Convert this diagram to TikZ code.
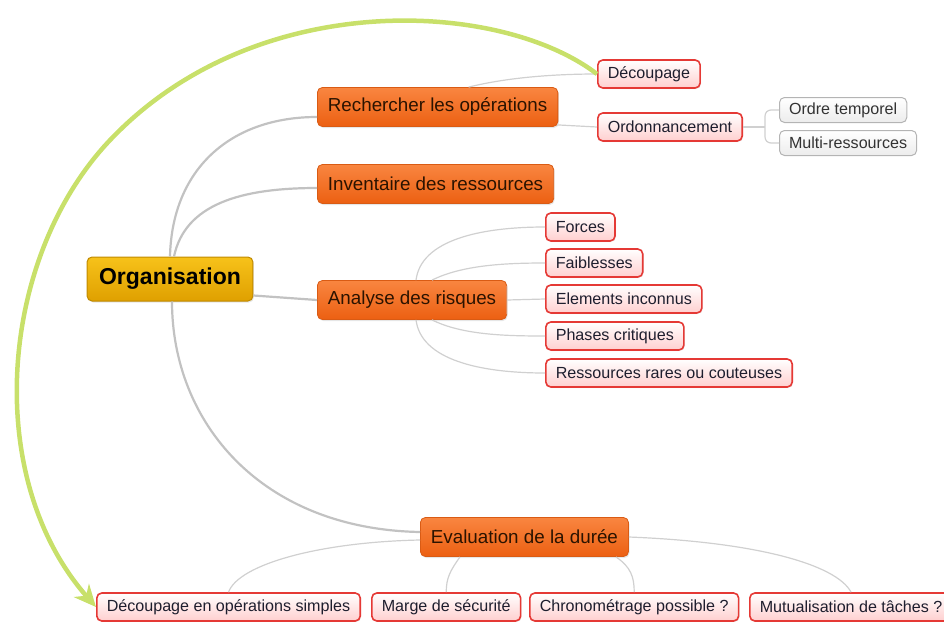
\documentclass[tikz,border=0pt]{standalone}
\usepackage{fontspec}
\setmainfont{Liberation Sans}
\usetikzlibrary{calc,shadows,arrows.meta}
\definecolor{orgtop}{HTML}{F7C21A}
\definecolor{orgbot}{HTML}{DFA000}
\definecolor{orgline}{HTML}{C08A00}
\definecolor{brtop}{HTML}{F98540}
\definecolor{brbot}{HTML}{EC6012}
\definecolor{brline}{HTML}{D95B14}
\definecolor{brtext}{HTML}{2B1300}
\definecolor{lfbot}{HTML}{FFCFCF}
\definecolor{lfline}{HTML}{E53935}
\definecolor{lftext}{HTML}{1E1E2E}
\definecolor{gybot}{HTML}{ECECEC}
\definecolor{gyline}{HTML}{B4B4B4}
\definecolor{gytext}{HTML}{333333}
\definecolor{link}{HTML}{C2C2C2}
\definecolor{twigc}{HTML}{D0D0D0}
\definecolor{relc}{HTML}{C8E06A}

\begin{document}
\begin{tikzpicture}[x=1pt,y=-1pt,
  root/.style={draw=orgline,line width=1pt,rounded corners=5pt,top color=orgtop,bottom color=orgbot,
    font=\fontsize{23}{26}\selectfont\bfseries,text=black,inner xsep=12pt,minimum height=44pt,
    drop shadow={opacity=.2,shadow xshift=1pt,shadow yshift=-1.5pt}},
  branch/.style={draw=brline,line width=.8pt,rounded corners=5pt,top color=brtop,bottom color=brbot,
    font=\fontsize{18.8}{22}\selectfont,text=brtext,inner xsep=10.5pt,minimum height=39pt,anchor=west,
    drop shadow={opacity=.2,shadow xshift=1pt,shadow yshift=-1.5pt}},
  leaf/.style={draw=lfline,line width=1.6pt,rounded corners=5pt,top color=white,bottom color=lfbot,
    font=\fontsize{16.1}{18}\selectfont,text=lftext,inner xsep=10pt,minimum height=28pt,anchor=west,
    drop shadow={opacity=.15,shadow xshift=1pt,shadow yshift=-1pt}},
  note/.style={draw=gyline,line width=1pt,rounded corners=5pt,top color=white,bottom color=gybot,
    font=\fontsize{16.1}{18}\selectfont,text=gytext,inner xsep=9.5pt,minimum height=25pt,anchor=west},
  trunk/.style={draw=link,line width=2.2pt},
  twig/.style={draw=twigc,line width=1.2pt},
  relation/.style={draw=relc,line width=4.5pt,-{Stealth[length=22pt,width=20pt,inset=7pt]}}]
\useasboundingbox (0,0) rectangle (944,621);

\node[root] (org) at (170,279) {Organisation};
\node[branch] (rech) at (317,107) {Rechercher les opérations};
\node[branch] (inv) at (317,184) {Inventaire des ressources};
\node[branch] (ana) at (317,300) {Analyse des risques};
\node[branch] (eval) at (420,537) {Evaluation de la durée};

\node[leaf] (dec) at (597,74) {Découpage};
\node[leaf] (ord) at (597,127) {Ordonnancement};
\node[note] (ordre) at (779,110) {Ordre temporel};
\node[note] (multi) at (779,143) {Multi-ressources};

\node[leaf] (forces) at (545,227) {Forces};
\node[leaf] (faib) at (545,263) {Faiblesses};
\node[leaf] (elem) at (545,299) {Elements inconnus};
\node[leaf] (phases) at (545,336) {Phases critiques};
\node[leaf] (rares) at (545,373) {Ressources rares ou couteuses};

\node[leaf] (dop) at (96,607) {Découpage en opérations simples};
\node[leaf] (marge) at (371,607) {Marge de sécurité};
\node[leaf] (chrono) at (529,607) {Chronométrage possible ?};
\node[leaf] (mutu) at (749,607) {Mutualisation de tâches ?};

\draw[trunk] (org.north) .. controls +(2,-87) and +(-87,0) .. ($(rech.west)+(0,10)$);
\draw[trunk] ($(org.north)+(4,0)$) .. controls +(11,-52) and +(-77,0) .. ($(inv.west)+(0,4)$);
\draw[trunk] ($(org.south east)+(0,-6)$) -- (ana.west);
\draw[trunk] ($(org.south)+(2,0)$) .. controls +(0,120) and +(-160,-3) .. ($(eval.west)+(0,-5)$);

\draw[twig] ($(rech.north)+(31,0)$) .. controls +(40,-10) and +(-40,0) .. (dec.west);
\draw[twig] ($(rech.south east)+(-1,-2)$) -- (ord.west);
\coordinate (ordj) at ($(ord.east)+(22,0)$);
\draw[twig] (ord.east) -- (ordj);
\draw[twig,rounded corners=6pt] (ordre.west) -| (ordj) |- (multi.west);

\draw[twig] ($(ana.north)+(4,0)$) .. controls +(5,-40) and +(-65,0) .. (forces.west);
\draw[twig] ($(ana.north)+(20,0)$) .. controls +(30,-15) and +(-40,0) .. (faib.west);
\draw[twig] (ana.east) -- (elem.west);
\draw[twig] ($(ana.south)+(20,0)$) .. controls +(30,15) and +(-40,0) .. (phases.west);
\draw[twig] ($(ana.south)+(4,0)$) .. controls +(5,40) and +(-65,0) .. (rares.west);

\draw[twig] ($(eval.west)+(0,3)$) .. controls +(-100,2) and +(10,-28) .. (dop.north);
\draw[twig] ($(eval.south west)+(40,0)$) .. controls +(-10,14) and +(0,-14) .. (marge.north);
\draw[twig] ($(eval.south east)+(-13,0)$) .. controls +(15,10) and +(0,-15) .. (chrono.north);
\draw[twig] (eval.east) .. controls +(127,5) and +(-15,-28) .. (mutu.north);

\draw[relation] (dec.west) .. controls (500,0) and (260,-12) .. (115,135)
  .. controls (0,250) and (-20,475) .. (dop.west);
\end{tikzpicture}
\end{document}
